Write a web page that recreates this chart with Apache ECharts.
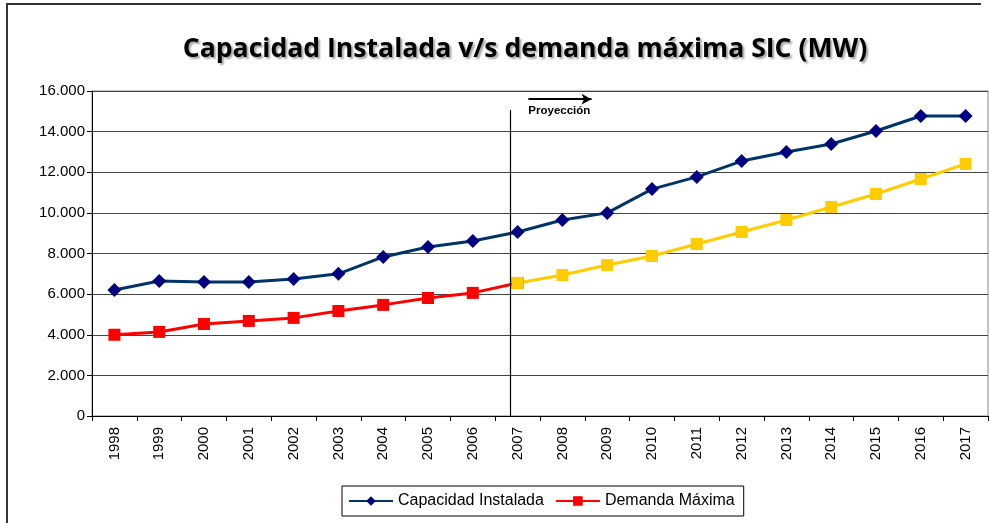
<!DOCTYPE html>
<html>
<head>
<meta charset="utf-8">
<script src="https://cdn.jsdelivr.net/npm/echarts@6/dist/echarts.min.js"></script>
<style>
html,body{margin:0;padding:0;background:#fff;}
#chart{width:990px;height:523px;}
</style>
</head>
<body>
<div id="chart"></div>
<script>
// Years on the category axis
const years = ['1998','1999','2000','2001','2002','2003','2004','2005','2006','2007',
               '2008','2009','2010','2011','2012','2013','2014','2015','2016','2017'];

// Installed capacity (MW)
const capacidad = [6200, 6650, 6600, 6600, 6750, 7000, 7830, 8320, 8620, 9060,
                   9650, 10000, 11170, 11770, 12550, 13000, 13390, 14030, 14770, 14770];

// Peak demand (MW): historical part up to 2007, projected part from 2007 on
const demandaHist = [4000, 4140, 4530, 4680, 4830, 5170, 5470, 5810, 6060, 6550];
const demandaProy = [6550, 6940, 7430, 7880, 8470, 9060, 9650, 10290, 10930, 11670, 12410];

// Y axis ticks
const yMin = 0, yMax = 16000, yStep = 2000;

const histSeries = years.map((y, i) => i < demandaHist.length ? demandaHist[i] : null);
const proySeries = years.map((y, i) => {
  const k = i - (demandaHist.length - 1);
  return k >= 0 ? demandaProy[k] : null;
});

const fmt = v => v === 0 ? '0' : String(v).replace(/\B(?=(\d{3})+(?!\d))/g, '.');

const chart = echarts.init(document.getElementById('chart'), null, {renderer: 'canvas'});
chart.setOption({
  animation: false,
  backgroundColor: '#fff',
  textStyle: {fontFamily: 'Liberation Sans, Arial, sans-serif'},
  title: {
    text: 'Capacidad Instalada v/s demanda máxima SIC (MW)',
    left: 520, top: 31, textAlign: 'center',
    textStyle: {
      fontFamily: 'Open Sans', fontWeight: 'bold', fontSize: 26.6, color: '#000',
      textShadowColor: 'rgba(0,0,0,0.35)', textShadowBlur: 2,
      textShadowOffsetX: 2, textShadowOffsetY: 2
    }
  },
  legend: {
    data: ['Capacidad Instalada', 'Demanda Máxima'],
    left: 342, top: 486, width: 401,
    borderColor: '#000', borderWidth: 1, padding: [7, 9, 7, 6],
    itemWidth: 44, itemHeight: 12, itemGap: 11,
    textStyle: {fontSize: 16, color: '#000', fontFamily: 'Liberation Sans'}
  },
  grid: {left: 92, right: 2, top: 91, bottom: 107, show: true, borderColor: '#888', borderWidth: 1},
  xAxis: [
    {
      type: 'category', data: years, boundaryGap: true,
      axisLine: {lineStyle: {color: '#000', width: 1}},
      axisTick: {show: true, length: 5, lineStyle: {color: '#000'}},
      axisLabel: {rotate: 90, fontSize: 15, color: '#000', margin: 11, interval: 0, fontFamily: 'Liberation Sans'},
      splitLine: {show: false}
    },
    {
      // continuous position axis (category index units) for the projection markers
      type: 'value', min: -0.5, max: years.length - 0.5, show: false
    }
  ],
  yAxis: {
    type: 'value', min: yMin, max: yMax, interval: yStep,
    axisLine: {show: true, onZero: false, lineStyle: {color: '#000', width: 1}},
    axisTick: {show: true, length: 5, lineStyle: {color: '#000'}},
    axisLabel: {fontSize: 15, color: '#000', margin: 7, formatter: fmt, fontFamily: 'Liberation Sans'},
    splitLine: {show: true, lineStyle: {color: '#444', width: 1}}
  },
  series: [
    {
      name: 'Capacidad Instalada', type: 'line', data: capacidad,
      symbol: 'diamond', symbolSize: 14,
      lineStyle: {color: '#003366', width: 3},
      itemStyle: {color: '#000080'},
      z: 3
    },
    {
      name: 'Demanda Máxima', type: 'line', data: histSeries,
      symbol: 'rect', symbolSize: 12,
      lineStyle: {color: '#FF0000', width: 3},
      itemStyle: {color: '#FF0000'},
      z: 2
    },
    {
      name: 'Proyección', type: 'line', data: proySeries,
      symbol: 'rect', symbolSize: 12,
      lineStyle: {color: '#FFCC00', width: 3},
      itemStyle: {color: '#FFCC00'},
      z: 2
    },
    {
      // divider between historical and projected values, plus the arrow note
      name: 'divisor', type: 'line', xAxisIndex: 1, data: [],
      silent: true,
      markLine: {
        silent: true, symbol: ['none', 'none'], animation: false,
        data: [
          [
            {coord: [8.83, 0], lineStyle: {color: '#000', width: 1.2, type: 'solid'}, label: {show: false}},
            {coord: [8.83, 15070]}
          ],
          [
            {
              coord: [9.24, 15600], symbol: 'none',
              lineStyle: {color: '#000', width: 2, type: 'solid'},
              label: {
                show: true, position: 'insideStartBottom', formatter: 'Proyección',
                color: '#000', fontWeight: 'bold', fontSize: 11.5, fontFamily: 'Liberation Sans',
                distance: [0, 6]
              }
            },
            {coord: [10.65, 15600], symbol: 'arrow', symbolSize: [8, 10]}
          ]
        ]
      }
    }
  ],
  graphic: [
    {
      type: 'polyline', silent: true,
      shape: {points: [[7, 523], [7, 4], [981, 4]]},
      style: {stroke: '#333', lineWidth: 2, fill: null}
    }
  ]
});
</script>
</body>
</html>
